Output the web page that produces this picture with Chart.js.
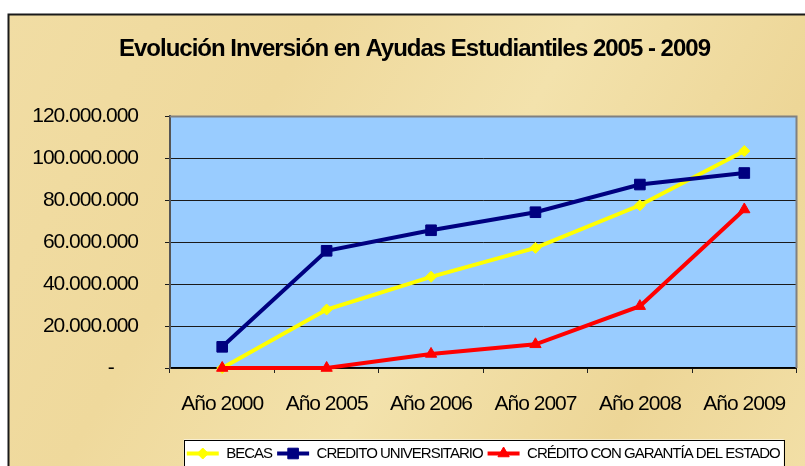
<!DOCTYPE html>
<html lang="es">
<head>
<meta charset="utf-8">
<title>Evolución Inversión en Ayudas Estudiantiles</title>
<script src="https://cdn.jsdelivr.net/npm/chart.js@4.4.1/dist/chart.umd.min.js"></script>
<style>
  html, body { margin: 0; padding: 0; background: #fff; overflow: hidden; }
  #grafico { display: block; }
</style>
</head>
<body>
<canvas id="grafico" width="805" height="471"></canvas>
<script>
// datos
var anios = ["Año 2000", "Año 2005", "Año 2006", "Año 2007", "Año 2008", "Año 2009"];
var becas = [0, 27900000, 43500000, 57300000, 77600000, 103500000];
var creditoUniversitario = [10100000, 55900000, 65700000, 74300000, 87500000, 93000000];
var creditoGarantia = [0, 0, 6700000, 11300000, 29500000, 75600000];
var ejeY = ["-     ", "20.000.000", "40.000.000", "60.000.000", "80.000.000", "100.000.000", "120.000.000"];

Chart.defaults.font.family = "'Liberation Sans', Arial, sans-serif";
Chart.defaults.color = "#000";

function apretar(chart) {
    chart.ctx.letterSpacing = '-1px';
}

// fondo pergamino, area azul, marco de leyenda
var fondo = {
    id: 'fondo',
    beforeInit: apretar,
    beforeUpdate: apretar,
    beforeLayout: apretar,
    beforeDraw: function(chart) {
        var ctx = chart.ctx;
        var a = chart.chartArea;
        ctx.save();
        ctx.fillStyle = '#fff';
        ctx.fillRect(0, 0, chart.width, chart.height);

        var g = ctx.createLinearGradient(0, 15, chart.width, chart.height);
        g.addColorStop(0, '#F1DDA4');
        g.addColorStop(0.3, '#EFD99C');
        g.addColorStop(0.55, '#F3E2AC');
        g.addColorStop(0.8, '#EDD697');
        g.addColorStop(1, '#F2DFA6');
        ctx.fillStyle = g;
        ctx.fillRect(8.5, 14.5, chart.width, chart.height);

        ctx.strokeStyle = '#1a1a1a';
        ctx.lineWidth = 2;
        ctx.beginPath();
        ctx.moveTo(8.5, chart.height + 2);
        ctx.lineTo(8.5, 14.5);
        ctx.lineTo(chart.width + 2, 14.5);
        ctx.stroke();

        ctx.fillStyle = '#99CCFF';
        ctx.fillRect(a.left, a.top, a.width, a.height);

        // recuadro de la leyenda
        var hb = chart.legend.legendHitBoxes;
        if (hb && hb.length) {
            var izq = hb[0].left - 3;
            var ult = hb[hb.length - 1];
            var der = ult.left + ult.width + 4;
            var arriba = chart.legend.top - 1.5;
            ctx.fillStyle = '#fff';
            ctx.fillRect(izq, arriba, der - izq, chart.height);
            ctx.strokeStyle = '#000';
            ctx.lineWidth = 1;
            ctx.strokeRect(Math.round(izq) + 0.5, Math.round(arriba) + 0.5, Math.round(der - izq), chart.height);
        }
        ctx.restore();
        apretar(chart);
    },
    beforeDatasetsDraw: function(chart) {
        var ctx = chart.ctx;
        var a = chart.chartArea;
        ctx.save();
        ctx.strokeStyle = '#808080';
        ctx.lineWidth = 2;
        ctx.beginPath();
        ctx.moveTo(a.left, a.top);
        ctx.lineTo(a.right, a.top);
        ctx.lineTo(a.right, a.bottom);
        ctx.stroke();
        ctx.restore();
    },
    afterDraw: function(chart) {
        // marcador en el centro de cada linea de la leyenda
        var ctx = chart.ctx;
        var lg = chart.legend;
        ctx.save();
        lg.legendItems.forEach(function(item, i) {
            var caja = lg.legendHitBoxes[i];
            var ds = chart.data.datasets[item.datasetIndex];
            ctx.fillStyle = ds.borderColor;
            ctx.strokeStyle = ds.borderColor;
            ctx.lineWidth = 1;
            Chart.helpers.drawPoint(ctx, {
                pointStyle: ds.pointStyle,
                radius: ds.pointRadius,
                borderWidth: 1,
                rotation: 0
            }, caja.left + lg.options.labels.boxWidth / 2, caja.top + caja.height / 2);
        });
        ctx.restore();
    }
};

var ctx = document.getElementById("grafico").getContext("2d");
var chart = new Chart(ctx, {
    type: "line",
    data: {
        labels: anios,
        datasets: [{
            label: "BECAS",
            data: becas,
            borderColor: '#FFFF00',
            backgroundColor: '#FFFF00',
            borderWidth: 4,
            pointStyle: 'rectRot',
            pointRadius: 5.5,
            pointHoverRadius: 5.5,
            pointBorderWidth: 1,
            order: 3,
            clip: false
        }, {
            label: "CREDITO UNIVERSITARIO",
            data: creditoUniversitario,
            borderColor: '#000080',
            backgroundColor: '#000080',
            borderWidth: 4,
            pointStyle: 'rect',
            pointRadius: 7.5,
            pointHoverRadius: 7.5,
            pointBorderWidth: 1,
            order: 2,
            clip: false
        }, {
            label: "CRÉDITO CON GARANTÍA DEL ESTADO",
            data: creditoGarantia,
            borderColor: '#FF0000',
            backgroundColor: '#FF0000',
            borderWidth: 4,
            pointStyle: 'triangle',
            pointRadius: 6.5,
            pointHoverRadius: 6.5,
            pointBorderWidth: 1,
            order: 1,
            clip: false
        }]
    },
    options: {
        responsive: false,
        animation: false,
        events: [],
        layout: {
            padding: { left: 10, top: 15, right: 3, bottom: 0 }
        },
        scales: {
            x: {
                offset: true,
                ticks: {
                    padding: 19,
                    font: { size: 21 },
                    color: '#000',
                    maxRotation: 0,
                    autoSkip: false
                },
                grid: {
                    drawOnChartArea: false,
                    drawTicks: true,
                    tickLength: 5,
                    color: '#222',
                    offset: true
                },
                border: { color: '#000', width: 1.5 },
                afterFit: function(s) { s.height = 73; }
            },
            y: {
                min: 0,
                max: 120000000,
                ticks: {
                    stepSize: 20000000,
                    padding: 27,
                    font: { size: 21 },
                    color: '#000',
                    callback: function(value, index) {
                        return ejeY[index];
                    }
                },
                grid: {
                    color: '#1a1a1a',
                    lineWidth: 1,
                    tickLength: 5
                },
                border: { color: '#555', width: 2 },
                afterFit: function(s) { s.width = 160; }
            }
        },
        plugins: {
            title: {
                display: true,
                text: "   Evolución Inversión en Ayudas Estudiantiles 2005 - 2009",
                font: { size: 24, weight: 'bold' },
                color: '#000',
                padding: { top: 19.6, bottom: 53 }
            },
            legend: {
                position: 'bottom',
                fullSize: false,
                align: 'center',
                labels: {
                    boxWidth: 32,
                    boxHeight: 4,
                    padding: 5,
                    font: { size: 15 },
                    color: '#000',
                    sort: function(a, b) { return a.datasetIndex - b.datasetIndex; },
                    generateLabels: function(chart) {
                        var items = Chart.defaults.plugins.legend.labels.generateLabels(chart);
                        items.forEach(function(it) {
                            it.lineWidth = 0;
                            it.fillStyle = it.strokeStyle;
                        });
                        return items;
                    }
                }
            },
            tooltip: { enabled: false }
        }
    },
    plugins: [fondo]
});
</script>
</body>
</html>
